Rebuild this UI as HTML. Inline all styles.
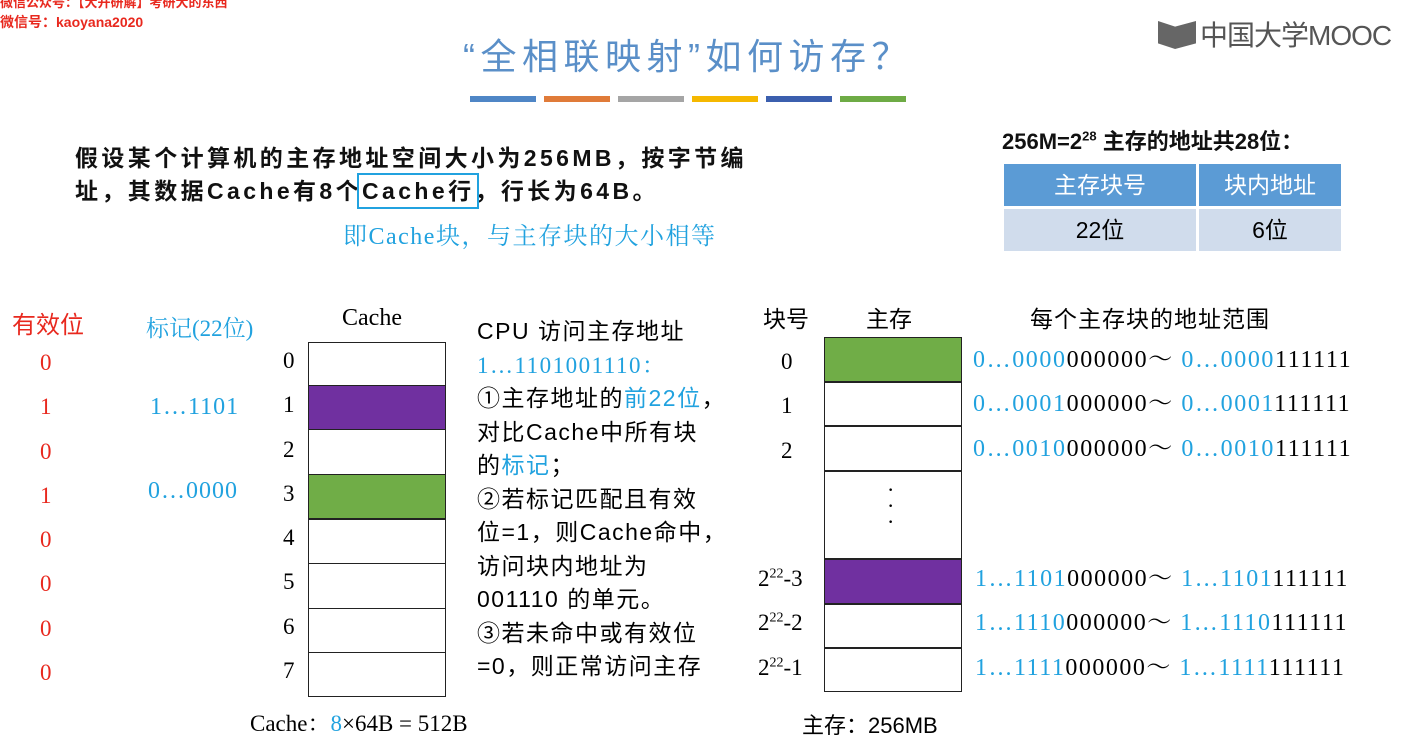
<!DOCTYPE html>
<html><head><meta charset="utf-8"><style>
body{margin:0;width:1410px;height:749px;background:#fff;position:relative;overflow:hidden;font-family:"Liberation Sans","Noto Sans CJK SC",sans-serif;}
.a{position:absolute;white-space:nowrap;}
.s{font-family:"Liberation Serif","Noto Serif CJK SC",serif;}
.r{color:#e8281e;}
.b{color:#21a2df;}
.box{position:absolute;border:1.5px solid #222;box-sizing:border-box;}
.bar{position:absolute;top:96px;height:6px;width:66px;}
</style></head><body>
<div class="a r" style="left:0;top:-8px;font-size:13px;font-weight:bold;">微信公众号：【大开研解】考研大的东西</div>
<div class="a r" style="left:0;top:12px;font-size:14px;font-weight:bold;">微信号：kaoyana2020</div>
<div class="a" style="left:463px;top:28px;font-size:36px;color:#5a8fc8;letter-spacing:5.5px;">“全相联映射”如何访存？</div>
<div class="bar" style="left:470px;background:#4f86c6"></div>
<div class="bar" style="left:544px;background:#e07b39"></div>
<div class="bar" style="left:618px;background:#a5a5a5"></div>
<div class="bar" style="left:692px;background:#f5b800"></div>
<div class="bar" style="left:766px;background:#3b5fae"></div>
<div class="bar" style="left:840px;background:#6eab45"></div>
<div class="a" style="left:1158px;top:14px;font-size:28px;color:#555;letter-spacing:-1px;"><span style="display:inline-block;width:38px;height:28px;background:#666;vertical-align:-4px;margin-right:4px;clip-path:polygon(0 0,45% 20%,100% 0,100% 80%,45% 100%,0 80%)"></span>中国大学MOOC</div>
<div class="a" style="left:75px;top:142px;font-size:23px;font-weight:bold;line-height:33px;color:#111;letter-spacing:3.4px;">假设某个计算机的主存地址空间大小为256MB，按字节编<br>址，其数据Cache有8个<span style="outline:2px solid #21a2df;outline-offset:3px;">Cache行</span>，行长为64B。</div>
<div class="a b s" style="left:343px;top:216px;font-size:24px;letter-spacing:1.5px;">即Cache块，与主存块的大小相等</div>
<div class="a" style="left:1002px;top:124px;font-size:22px;font-weight:bold;color:#111;">256M=2<sup style="font-size:13px">28</sup> 主存的地址共28位：</div>
<div style="position:absolute;left:1004px;top:164px;width:192px;height:42px;background:#5b9bd5;color:#fff;font-size:23px;text-align:center;line-height:42px;">主存块号</div>
<div style="position:absolute;left:1199px;top:164px;width:142px;height:42px;background:#5b9bd5;color:#fff;font-size:23px;text-align:center;line-height:42px;">块内地址</div>
<div style="position:absolute;left:1004px;top:209px;width:192px;height:42px;background:#d0dcec;font-size:23px;text-align:center;line-height:42px;">22位</div>
<div style="position:absolute;left:1199px;top:209px;width:142px;height:42px;background:#d0dcec;font-size:23px;text-align:center;line-height:42px;">6位</div>

<div class="a r" style="left:12px;top:305px;font-size:24px;">有效位</div>
<div class="a b s" style="left:146px;top:310px;font-size:23px;">标记(22位)</div>
<div class="a s" style="left:342px;top:305px;font-size:24px;">Cache</div>
<div class="a s r" style="left:40px;top:341px;font-size:23px;line-height:44.3px;">0<br>1<br>0<br>1<br>0<br>0<br>0<br>0</div>
<div class="a s" style="left:283px;top:339px;font-size:23px;line-height:44.3px;">0<br>1<br>2<br>3<br>4<br>5<br>6<br>7</div>
<div class="a s b" style="left:150px;top:394px;font-size:24px;letter-spacing:1px;">1…1101</div>
<div class="a s b" style="left:148px;top:478px;font-size:24px;letter-spacing:1px;">0…0000</div>
<div class="box" style="left:308px;top:342px;width:138px;height:355px;"></div>
<div style="position:absolute;left:309px;top:386px;width:136px;height:44px;background:#7030a0"></div>
<div style="position:absolute;left:309px;top:475px;width:136px;height:44px;background:#70ad47"></div>
<div style="position:absolute;left:308px;top:385px;width:138px;height:268px;border-top:1.5px solid #222;border-bottom:1.5px solid #222;box-sizing:border-box"></div>
<div style="position:absolute;left:308px;top:429px;width:138px;height:180px;border-top:1.5px solid #222;border-bottom:1.5px solid #222;box-sizing:border-box"></div>
<div style="position:absolute;left:308px;top:474px;width:138px;height:90px;border-top:1.5px solid #222;border-bottom:1.5px solid #222;box-sizing:border-box"></div>
<div style="position:absolute;left:308px;top:518px;width:138px;height:1.5px;background:#222"></div>
<div class="a s" style="left:250px;top:705px;font-size:23px;">Cache：<span class="b">8</span>×64B = 512B</div>

<div class="a" style="left:477px;top:315px;font-size:23px;line-height:33.5px;letter-spacing:1.5px;">CPU 访问主存地址<br><span class="b s">1…1101001110：</span><br>①主存地址的<span class="b">前22位</span>，<br>对比Cache中所有块<br>的<span class="b">标记</span>；<br>②若标记匹配且有效<br>位=1，则Cache命中，<br>访问块内地址为<br>001110 的单元。<br>③若未命中或有效位<br>=0，则正常访问主存</div>

<div class="a" style="left:763px;top:300px;font-size:23px;">块号</div>
<div class="a" style="left:866px;top:300px;font-size:23px;">主存</div>
<div class="a" style="left:1030px;top:300px;font-size:23px;letter-spacing:1px;">每个主存块的地址范围</div>
<div class="a s" style="left:781px;top:340px;font-size:23px;line-height:44.3px;">0<br>1<br>2</div>
<div class="a s" style="left:758px;top:557px;font-size:23px;line-height:44.3px;">2<sup style="font-size:14px;line-height:0">22</sup>-3<br>2<sup style="font-size:14px;line-height:0">22</sup>-2<br>2<sup style="font-size:14px;line-height:0">22</sup>-1</div>
<div class="box" style="left:824px;top:337px;width:138px;height:355px;"></div>
<div style="position:absolute;left:825px;top:338px;width:136px;height:43px;background:#70ad47"></div>
<div style="position:absolute;left:825px;top:558px;width:136px;height:45px;background:#7030a0"></div>
<div style="position:absolute;left:824px;top:381px;width:138px;height:1.5px;background:#222"></div>
<div style="position:absolute;left:824px;top:425px;width:138px;height:1.5px;background:#222"></div>
<div style="position:absolute;left:824px;top:470px;width:138px;height:1.5px;background:#222"></div>
<div style="position:absolute;left:824px;top:558px;width:138px;height:1.5px;background:#222"></div>
<div style="position:absolute;left:824px;top:603px;width:138px;height:1.5px;background:#222"></div>
<div style="position:absolute;left:824px;top:647px;width:138px;height:1.5px;background:#222"></div>
<div class="a s" style="left:887px;top:482px;font-size:22px;line-height:16px;">·<br>·<br>·</div>
<div class="a s" style="left:973px;top:338px;font-size:24px;line-height:44.3px;letter-spacing:1.6px;"><span class="b">0…0000</span>000000～ <span class="b">0…0000</span>111111<br><span class="b">0…0001</span>000000～ <span class="b">0…0001</span>111111<br><span class="b">0…0010</span>000000～ <span class="b">0…0010</span>111111</div>
<div class="a s" style="left:975px;top:557px;font-size:24px;line-height:44.3px;letter-spacing:1.5px;"><span class="b">1…1101</span>000000～ <span class="b">1…1101</span>111111<br><span class="b">1…1110</span>000000～ <span class="b">1…1110</span>111111<br><span class="b">1…1111</span>000000～ <span class="b">1…1111</span>111111</div>
<div class="a" style="left:802px;top:708px;font-size:22px;">主存：256MB</div>
</body></html>
